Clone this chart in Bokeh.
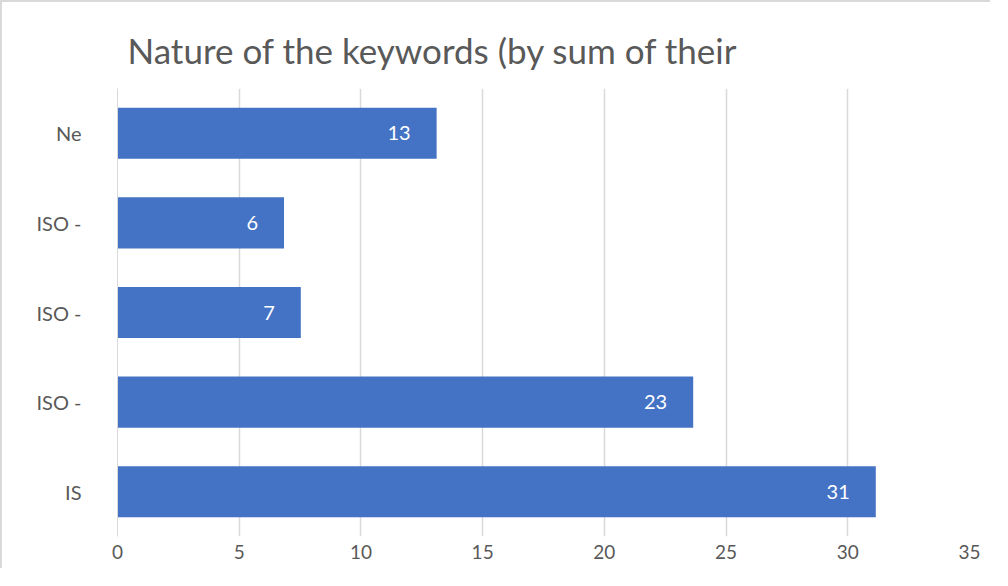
from bokeh.plotting import figure
from bokeh.models import FixedTicker, Range1d, ColumnDataSource, LabelSet
from bokeh.core.properties import value
from bokeh.embed import file_html
from bokeh.resources import INLINE

# data (bottom to top)
categories = ["IS", "ISO -", "ISO -", "ISO -", "Ne"]
values = [31.15, 23.65, 7.53, 6.84, 13.11]
value_labels = ["31", "23", "7", "6", "13"]
x_ticks = [0, 5, 10, 15, 20, 25, 30, 35]

positions = list(range(1, len(categories) + 1))
src = ColumnDataSource(dict(y=positions, v=values, lab=value_labels))

FONT = "Lato"
GRAY = "#595959"

p = figure(width=990, height=568, output_backend="svg", toolbar_location=None,
           x_range=Range1d(0, 35), y_range=Range1d(0.5, len(categories) + 0.5),
           min_border_left=115, min_border_right=23, min_border_top=86,
           min_border_bottom=34)
p.styles = {"border-left": "2px solid #d9d9d9", "border-top": "2px solid #d9d9d9"}

p.hbar(y="y", right="v", left=0, height=0.57, source=src,
       fill_color="#4472c4", line_color=None)

labels = LabelSet(x="v", y="y", text="lab", source=src, text_align="right",
                  text_baseline="middle", x_offset=-26, text_color="white",
                  text_font=value(FONT), text_font_size="20px")
p.add_layout(labels)

p.title.text = "Nature of the keywords (by sum of their"
p.title.text_font = FONT
p.title.text_font_size = "35px"
p.title.text_font_style = "normal"
p.title.text_color = GRAY
p.title.offset = 10
p.title.standoff = 36

p.xaxis.ticker = FixedTicker(ticks=x_ticks)
p.xaxis.axis_line_color = None
p.xaxis.major_tick_line_color = None
p.xaxis.minor_tick_line_color = None
p.xaxis.major_tick_out = 0
p.xaxis.major_tick_in = 0
p.xaxis.minor_tick_out = 0
p.xaxis.major_label_text_font = FONT
p.xaxis.major_label_text_font_size = "19px"
p.xaxis.major_label_text_color = GRAY
p.xaxis.major_label_standoff = 8

p.yaxis.ticker = FixedTicker(ticks=positions)
p.yaxis.major_label_overrides = {pos: c for pos, c in zip(positions, categories)}
p.yaxis.axis_line_color = "#d9d9d9"
p.yaxis.major_tick_line_color = None
p.yaxis.minor_tick_line_color = None
p.yaxis.major_tick_out = 0
p.yaxis.major_tick_in = 0
p.yaxis.minor_tick_out = 0
p.yaxis.major_label_text_font = FONT
p.yaxis.major_label_text_font_size = "20px"
p.yaxis.major_label_text_color = GRAY
p.yaxis.major_label_standoff = 36

p.xgrid.grid_line_color = "#d9d9d9"
p.xgrid.grid_line_width = 1.5
p.ygrid.grid_line_color = None
p.outline_line_color = None

open("out.html", "w").write(file_html(p, INLINE))
